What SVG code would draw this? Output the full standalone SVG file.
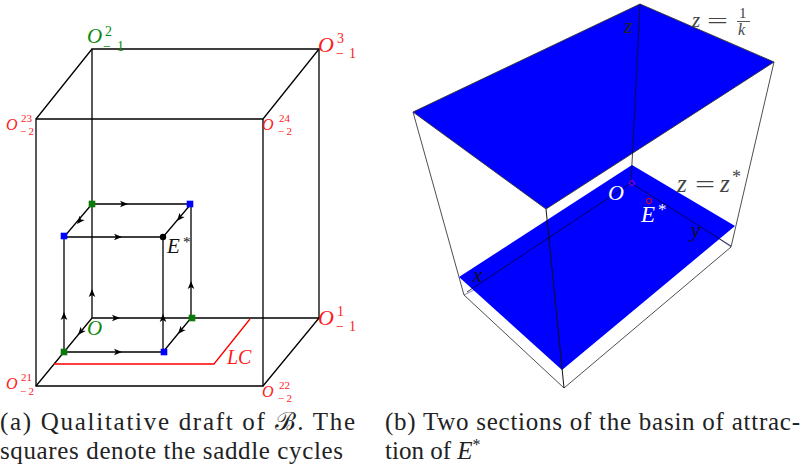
<svg xmlns="http://www.w3.org/2000/svg" xmlns:xlink="http://www.w3.org/1999/xlink" width="803" height="468" viewBox="0 0 803 468">
<style>
.ln{fill:none;stroke:#000;stroke-width:1.3}
.mi{font-family:"Liberation Serif","DejaVu Serif",serif;font-style:italic}
.rm{font-family:"Liberation Serif","DejaVu Serif",serif}
.red{fill:#ff1a1a}
.grn{fill:#0a8a0a}
.cap{font-family:"Liberation Serif","DejaVu Serif",serif;font-size:25px;fill:#222}
.sq-g{fill:#0a7a0a}
.sq-b{fill:#0000ff}
.thin{fill:none;stroke:#222;stroke-width:0.8}
</style>
<defs>
<path id="ah" d="M0,0 L-8,-3.3 L-6,0 L-8,3.3 Z" fill="#000"/>
<rect id="sq" x="-3.3" y="-3.3" width="6.6" height="6.6"/>
</defs>

<!-- ===== Panel (a) ===== -->
<g id="connectors">
  <path class="ln" d="M92,49 H319 V318 H92 Z"/>
  <path class="ln" d="M36,119 H263 V386 H36 Z"/>
  <path class="ln" d="M92,49 L36,119 M319,49 L263,119 M319,318 L263,386 M92,318 L36,386"/>
  <path class="ln" d="M92,204 H191 M64,237 H163 M64,352 H163 M92,204 L64,237 M191,204 L163,237 M191,318 L163,352 M64,237 V352 M163,237 V352 M191,204 V318"/>
  <path d="M54,364 H214 L250,319" fill="none" stroke="#ff0000" stroke-width="1.3"/>
  <use xlink:href="#ah" transform="translate(128,204)"/>
  <use xlink:href="#ah" transform="translate(122,237)"/>
  <use xlink:href="#ah" transform="translate(122,352)"/>
  <use xlink:href="#ah" transform="translate(120,318)"/>
  <use xlink:href="#ah" transform="translate(64,312) rotate(-90)"/>
  <use xlink:href="#ah" transform="translate(92,289) rotate(-90)"/>
  <use xlink:href="#ah" transform="translate(163,314) rotate(-90)"/>
  <use xlink:href="#ah" transform="translate(191,281) rotate(-90)"/>
  <use xlink:href="#ah" transform="translate(77,224) rotate(130)"/>
  <use xlink:href="#ah" transform="translate(177,221) rotate(130)"/>
  <use xlink:href="#ah" transform="translate(78,335) rotate(130)"/>
  <use xlink:href="#ah" transform="translate(178,334) rotate(130)"/>
</g>

<g id="node-D"><use xlink:href="#sq" class="sq-g" transform="translate(92,204)"/></g>
<g id="node-C"><use xlink:href="#sq" class="sq-b" transform="translate(190,204)"/></g>
<g id="node-E"><use xlink:href="#sq" class="sq-b" transform="translate(64,236)"/></g>
<g id="node-Estar"><circle cx="163" cy="237" r="3.2" fill="#000"/>
  <text class="mi" x="167" y="253" font-size="21" fill="#111">E</text><text class="rm" x="183" y="247" font-size="15" fill="#111">*</text></g>
<g id="node-B"><use xlink:href="#sq" class="sq-g" transform="translate(192,318)"/></g>
<g id="node-G"><use xlink:href="#sq" class="sq-g" transform="translate(64,352)"/></g>
<g id="node-H"><use xlink:href="#sq" class="sq-b" transform="translate(164,352)"/></g>
<g id="node-O"><text class="mi grn" x="87" y="335" font-size="21">O</text></g>

<g id="node-O2m1">
  <text class="mi grn" x="87" y="43" font-size="21">O</text>
  <text class="rm grn" x="105" y="36" font-size="14">2</text>
  <text class="rm grn" x="103" y="51" font-size="14" textLength="21" lengthAdjust="spacing">−1</text>
</g>
<g id="node-O3m1">
  <text class="mi red" x="318" y="52" font-size="22">O</text>
  <text class="rm red" x="337" y="43" font-size="14">3</text>
  <text class="rm red" x="336" y="58" font-size="14" textLength="20" lengthAdjust="spacing">−1</text>
</g>
<g id="node-O1m1">
  <text class="mi red" x="318" y="325" font-size="22">O</text>
  <text class="rm red" x="337" y="316" font-size="14">1</text>
  <text class="rm red" x="336" y="331" font-size="14" textLength="20" lengthAdjust="spacing">−1</text>
</g>
<g id="node-O23m2">
  <text class="mi red" x="6" y="130" font-size="16">O</text>
  <text class="rm red" x="21" y="122" font-size="11">23</text>
  <text class="rm red" x="20" y="135" font-size="11" textLength="14" lengthAdjust="spacing">−2</text>
</g>
<g id="node-O24m2">
  <text class="mi red" x="262" y="130" font-size="16">O</text>
  <text class="rm red" x="279" y="122" font-size="11">24</text>
  <text class="rm red" x="278" y="135" font-size="11" textLength="14" lengthAdjust="spacing">−2</text>
</g>
<g id="node-O21m2">
  <text class="mi red" x="6" y="389" font-size="16">O</text>
  <text class="rm red" x="21" y="381" font-size="11">21</text>
  <text class="rm red" x="20" y="395" font-size="11" textLength="14" lengthAdjust="spacing">−2</text>
</g>
<g id="node-O22m2">
  <text class="mi red" x="262" y="397" font-size="16">O</text>
  <text class="rm red" x="279" y="389" font-size="11">22</text>
  <text class="rm red" x="278" y="402" font-size="11" textLength="14" lengthAdjust="spacing">−2</text>
</g>
<g id="label-LC"><text class="mi red" x="227" y="364" font-size="20">LC</text></g>

<!-- ===== Panel (b) ===== -->
<g id="plot3d">
  <path d="M464,295 L474,290 M731,247 L718,238" fill="none" stroke="#8888cc" stroke-width="1"/>
  <path class="thin" d="M464,295 L564,388 L731,247"/>
  <path class="thin" d="M413,112 L464,295 M774,62 L731,247"/>
  <polygon points="632,165 735,226 562,370 459,277" fill="#0000ff"/>
  <path d="M631,183 L467,292 M631,183 L731,246" fill="none" stroke="#000033" stroke-width="0.8"/>
  <path d="M546,209 L564,388" fill="none" stroke="#111" stroke-width="1"/>
  <polygon points="640,4 774,62 546,209 413,112" fill="#0000ff" stroke="#333" stroke-width="0.9"/>
  <path d="M640,4 L631,183" fill="none" stroke="#111" stroke-width="0.8"/>
  <text class="mi" x="624" y="33" font-size="22" fill="#222">z</text>
  <text class="mi" x="473" y="282" font-size="21" fill="#111">x</text>
  <text class="mi" x="691" y="237" font-size="21" fill="#111">y</text>
  <circle cx="632" cy="183" r="2.4" fill="none" stroke="#b000d0" stroke-width="1"/>
  <circle cx="649" cy="201" r="2.6" fill="none" stroke="#ff0000" stroke-width="1"/>
  <text class="mi" x="608" y="200" font-size="22" fill="#fff">O</text>
  <text class="mi" x="641" y="222" font-size="23" fill="#fff">E</text>
  <text class="rm" x="658" y="215" font-size="17" fill="#fff">*</text>
</g>
<g id="label-z1k" fill="#444">
  <text class="mi" x="692" y="27" font-size="21">z</text>
  <text class="rm" x="707" y="28" font-size="22" textLength="21" lengthAdjust="spacingAndGlyphs">=</text>
  <text class="rm" x="739" y="18" font-size="15">1</text>
  <rect x="737" y="21" width="13" height="0.9"/>
  <text class="mi" x="738" y="35" font-size="16">k</text>
</g>
<g id="label-zzstar" fill="#444">
  <text class="mi" x="677" y="192" font-size="25">z</text>
  <text class="rm" x="695" y="193" font-size="25" textLength="20" lengthAdjust="spacingAndGlyphs">=</text>
  <text class="mi" x="720" y="192" font-size="25">z</text>
  <text class="rm" x="732" y="183" font-size="18">*</text>
</g>

<!-- ===== Captions ===== -->
<g id="caption-a" class="cap">
  <text x="0" y="430" textLength="355" lengthAdjust="spacing">(a) Qualitative draft of ℬ. The</text>
  <text x="0" y="459" textLength="343" lengthAdjust="spacing">squares denote the saddle cycles</text>
</g>
<g id="caption-b" class="cap">
  <text x="385" y="430" textLength="415" lengthAdjust="spacing">(b) Two sections of the basin of attrac-</text>
  <text x="385" y="459">tion of <tspan font-style="italic">E</tspan><tspan font-size="16" dy="-9">*</tspan></text>
</g>
</svg>
